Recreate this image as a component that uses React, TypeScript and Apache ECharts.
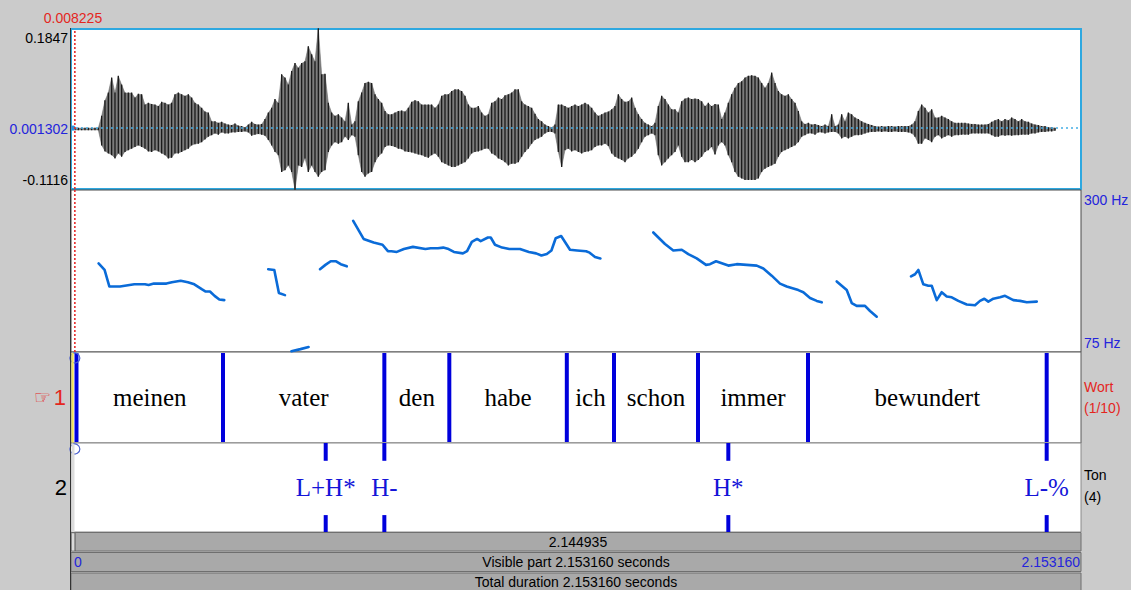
import { useEffect, useRef } from "react";
import * as echarts from "echarts";

// Sound: "meinen vater den habe ich schon immer bewundert"
const TOTAL_DURATION = 2.15316;
const CURSOR_TIME = 0.008225;

// Waveform amplitude range and zero level
const WAVE_MAX_VALUE = 0.1847;
const WAVE_MIN_VALUE = -0.1116;
const WAVE_ZERO = 0.001302;

// Waveform envelope (amplitude x 0.001), sampled on a regular time grid
const WAVE_START = 0.0085;
const WAVE_STEP = 0.0071063;
const WAVE_UPPER = [
  1, 1, 1, 1, 1, 1, 1, 1,
  23, 52, 66, 94, 66, 97, 81, 66, 66, 66,
  57, 64, 63, 44, 47, 45, 44, 41, 49, 47,
  44, 47, 63, 66, 63, 60, 63, 57, 47, 44,
  38, 31, 29, 13, 13, 10, 12, 9, 7, 6,
  9, 5, 4, 2, 7, 12, 8, 7, 8, 17,
  29, 38, 54, 47, 100, 94, 81, 106, 121, 112,
  121, 124, 152, 137, 124, 185, 100,
  101, 47, 29, 23, 26, 20, 13, 47, 7, 13,
  50, 66, 84, 86, 84, 63, 54, 47, 32, 26,
  26, 29, 32, 33, 31, 38, 49, 52, 50, 44,
  44, 44, 44, 38, 44, 60, 63, 63, 69, 72,
  72, 69, 60, 44, 38, 38, 41, 29, 23, 26,
  47, 50, 57, 54, 61, 63, 66, 72, 72, 50,
  44, 41, 38, 27, 17, 13, 7, 4, 2, 7,
  44, 44, 41, 38, 41, 44, 41,
  44, 47, 44, 38, 29, 23, 26, 29, 31, 35,
  41, 63, 54, 49, 50, 57, 38, 26, 17, 10,
  7, 4, 10, 41, 60, 54, 44, 35, 35, 29,
  50, 55, 57, 54, 55, 54, 50, 41, 47, 41,
  45, 44, 17, 29, 47, 63, 75, 84, 87, 94,
  97, 98, 97, 94, 84, 75, 84, 103, 84, 69,
  63, 60, 63, 54, 47, 32, 13, 8, 10, 7,
  8, 6, 4, 7, 4, 26, 4, 7,
  26, 13, 29, 26, 20, 17, 13, 10, 8, 6,
  4, 3, 4, 3, 4, 4, 3, 4, 4, 4,
  4, 7, 13, 32, 44, 38, 29, 35, 20, 20,
  23, 20, 17, 13, 10, 10, 10, 10, 9, 8,
  8, 7, 7, 7, 8, 12, 15, 17, 13, 17,
  15, 20, 17, 13, 17, 13, 12, 9, 7, 6,
  4, 4, 2, 2, 1,
];
const WAVE_LOWER = [
  -2, -2, -2, -2, -2, -2, -2, -2,
  -30, -41, -45, -48, -54, -45, -51, -42, -39, -36,
  -33, -30, -33, -36, -41, -42, -39, -41, -45, -48,
  -54, -53, -45, -45, -42, -39, -36, -30, -28, -27,
  -24, -19, -14, -11, -8, -10, -6, -8, -8, -6,
  -6, -5, -5, -4, -6, -12, -10, -9, -10, -12,
  -20, -30, -42, -48, -79, -76, -67, -79, -112, -67,
  -70, -54, -79, -67, -79, -88, -79,
  -76, -42, -30, -24, -27, -24, -14, -20, -11, -14,
  -48, -79, -88, -82, -79, -61, -51, -45, -33, -30,
  -31, -33, -36, -37, -41, -42, -43, -45, -47, -48,
  -51, -53, -48, -45, -51, -61, -64, -67, -70, -70,
  -67, -64, -61, -54, -45, -42, -41, -39, -36, -36,
  -45, -48, -54, -57, -61, -67, -64, -64, -61, -51,
  -42, -36, -27, -20, -17, -14, -8, -5, -5, -8,
  -42, -70, -39, -36, -41, -39, -42,
  -45, -42, -41, -39, -33, -30, -30, -27, -31, -45,
  -51, -54, -57, -61, -54, -51, -45, -36, -24, -14,
  -11, -8, -11, -48, -67, -61, -54, -48, -42, -30,
  -51, -61, -61, -57, -61, -57, -51, -42, -39, -33,
  -47, -30, -24, -30, -48, -61, -79, -88, -91, -94,
  -94, -94, -94, -91, -79, -73, -70, -67, -64, -51,
  -42, -39, -36, -33, -30, -24, -14, -11, -8, -8,
  -10, -6, -6, -8, -6, -5, -5, -8,
  -17, -14, -17, -14, -11, -11, -10, -8, -6, -5,
  -5, -4, -5, -4, -5, -5, -4, -5, -5, -5,
  -6, -8, -14, -27, -27, -17, -20, -24, -14, -11,
  -17, -14, -11, -14, -11, -11, -10, -10, -10, -8,
  -8, -8, -8, -8, -8, -11, -14, -14, -11, -12,
  -11, -12, -11, -11, -10, -10, -10, -8, -8, -6,
  -5, -5, -4, -4, -3,
];

// Pitch (Hz), voiced stretches as [time s, F0 Hz]
const PITCH_MIN = 75;
const PITCH_MAX = 300;
const PITCH_SEGMENTS = [
  [[0.0588, 198], [0.0716, 189], [0.0817, 166], [0.1045, 166], [0.135, 169], [0.1578, 169], [0.1654, 168], [0.1767, 170], [0.2034, 170], [0.2149, 172], [0.2339, 174], [0.2492, 172], [0.2629, 169], [0.2795, 162], [0.2872, 159], [0.2963, 159], [0.3061, 153], [0.3162, 148], [0.3268, 147]],
  [[0.4204, 190], [0.4334, 189], [0.4432, 157], [0.4562, 154]],
  [[0.4699, 76], [0.4891, 79], [0.5065, 82]],
  [[0.5308, 190], [0.5424, 196], [0.5537, 201], [0.5652, 201], [0.575, 197], [0.588, 194]],
  [[0.6016, 257], [0.6238, 232], [0.6451, 227], [0.6641, 224], [0.6756, 215], [0.6831, 215], [0.6946, 214], [0.7097, 218], [0.7289, 221], [0.7555, 218], [0.7668, 219], [0.7822, 219], [0.7935, 220], [0.805, 218], [0.8163, 214], [0.8355, 212], [0.8444, 215], [0.8545, 228], [0.8658, 232], [0.8734, 229], [0.8888, 234], [0.8948, 234], [0.9039, 224], [0.9191, 220], [0.9344, 218], [0.9572, 218], [0.9762, 214], [0.9915, 212], [1.0029, 209], [1.0144, 211], [1.0242, 216], [1.0333, 233], [1.0449, 236], [1.0638, 217], [1.079, 216], [1.0981, 215], [1.1056, 213], [1.1171, 207], [1.1286, 205]],
  [[1.2414, 241], [1.2663, 225], [1.284, 216], [1.302, 217], [1.316, 211], [1.3339, 205], [1.3538, 196], [1.3623, 197], [1.3751, 201], [1.4013, 195], [1.4192, 197], [1.4405, 196], [1.4619, 195], [1.4759, 191], [1.4938, 181], [1.5115, 170], [1.5258, 166], [1.5505, 161], [1.5612, 158], [1.5755, 150], [1.5898, 146], [1.6004, 144]],
  [[1.6324, 173], [1.6537, 161], [1.6644, 143], [1.675, 139], [1.6927, 139], [1.7034, 132], [1.7177, 124]],
  [[1.7908, 180], [1.7993, 183], [1.8064, 189], [1.817, 169], [1.8277, 167], [1.8349, 167], [1.8456, 147], [1.8562, 158], [1.8669, 152], [1.8776, 151], [1.8916, 146], [1.9095, 141], [1.9272, 140], [1.9379, 146], [1.9471, 149], [1.9556, 145], [1.9663, 149], [1.9805, 151], [1.9912, 153], [2.0089, 147], [2.0232, 146], [2.0375, 144], [2.0588, 145]],
];

// Tier 1 "Wort" (interval tier)
const WORD_BOUNDARIES = [0.0117, 0.324, 0.668, 0.8065, 1.057, 1.1576, 1.3367, 1.5712, 2.08];
const WORD_LABELS = ["meinen", "vater", "den", "habe", "ich", "schon", "immer", "bewundert"];
const WORD_INTERVAL_COUNT = 10;

// Tier 2 "Ton" (point tier)
const TONE_TIMES = [0.543, 0.668, 1.4013, 2.08];
const TONE_LABELS = ["L+H*", "H-", "H*", "L-%"];

const SANS = '"Liberation Sans", Arial, Helvetica, sans-serif';
const SERIF = '"Liberation Serif", "Times New Roman", serif';
const BLUE_TEXT = "#2424dc";
const RED_TEXT = "#e4261e";
const TIER_BLUE = "#0000dc";

const LEFT = 71;
const PLOT_W = 1010;

function buildOption(): any {
  const waveRows = WAVE_UPPER.map((hi, i) => {
    const j = Math.min(i + 1, WAVE_UPPER.length - 1);
    return [
      WAVE_START + i * WAVE_STEP,
      WAVE_LOWER[i] / 1000,
      hi / 1000,
      WAVE_START + j * WAVE_STEP,
      WAVE_LOWER[j] / 1000,
      WAVE_UPPER[j] / 1000,
    ];
  });

  const xAxes = [0, 1, 2, 3].map((g) => ({
    type: "value",
    gridIndex: g,
    min: 0,
    max: TOTAL_DURATION,
    show: false,
  }));

  const yAxes = [
    { type: "value", gridIndex: 0, min: WAVE_MIN_VALUE, max: WAVE_MAX_VALUE, show: false },
    { type: "value", gridIndex: 1, min: PITCH_MIN, max: PITCH_MAX, show: false },
    { type: "value", gridIndex: 2, min: 0, max: 1, show: false },
    { type: "value", gridIndex: 3, min: 0, max: 1, show: false },
  ];

  const series: any[] = [];

  // waveform: grey envelope with a dark stroke per sample
  series.push({
    type: "custom",
    xAxisIndex: 0,
    yAxisIndex: 0,
    encode: { x: [0, 3], y: [1, 2, 4, 5] },
    data: waveRows,
    z: 3,
    renderItem: (_p: any, api: any) => {
      const a = api.coord([api.value(0), api.value(2)]);
      const b = api.coord([api.value(3), api.value(5)]);
      const c = api.coord([api.value(3), api.value(4)]);
      const d = api.coord([api.value(0), api.value(1)]);
      return {
        type: "group",
        children: [
          {
            type: "polygon",
            shape: { points: [a, b, c, d] },
            style: { fill: "#7c7c7c", stroke: "#6e6e6e", lineWidth: 0.6 },
          },
          {
            type: "line",
            shape: { x1: a[0], y1: a[1] - 0.5, x2: d[0], y2: d[1] + 0.5 },
            style: { stroke: "#151515", lineWidth: 1.2 },
          },
        ],
      };
    },
  });

  // zero level of the waveform
  series.push({
    type: "line",
    xAxisIndex: 0,
    yAxisIndex: 0,
    data: [[0, WAVE_ZERO], [TOTAL_DURATION, WAVE_ZERO]],
    showSymbol: false,
    silent: true,
    z: 5,
    lineStyle: { color: "#44aee6", width: 1.5, type: [2, 3] },
  });
  series.push({
    type: "custom",
    xAxisIndex: 0,
    yAxisIndex: 0,
    data: [[0, WAVE_ZERO]],
    z: 6,
    renderItem: (_p: any, api: any) => {
      const p = api.coord([api.value(0), api.value(1)]);
      return { type: "circle", shape: { cx: p[0] + 2, cy: p[1], r: 2.6 }, style: { fill: "#2f90d6" } };
    },
  });

  // cursor
  [0, 1].forEach((g) => {
    series.push({
      type: "line",
      xAxisIndex: g,
      yAxisIndex: g,
      data: [
        [CURSOR_TIME, g === 0 ? WAVE_MIN_VALUE : PITCH_MIN],
        [CURSOR_TIME, g === 0 ? WAVE_MAX_VALUE : PITCH_MAX],
      ],
      showSymbol: false,
      silent: true,
      z: 6,
      lineStyle: { color: "#e62a2a", width: 1.6, type: [2, 2] },
    });
  });

  // pitch contour
  PITCH_SEGMENTS.forEach((seg) => {
    series.push({
      type: "line",
      xAxisIndex: 1,
      yAxisIndex: 1,
      data: seg,
      showSymbol: false,
      silent: true,
      z: 4,
      lineStyle: { color: "#0a6bd8", width: 2.6, join: "round", cap: "round" },
    });
  });

  // tier 1 boundaries
  series.push({
    type: "custom",
    xAxisIndex: 2,
    yAxisIndex: 2,
    data: WORD_BOUNDARIES.map((t) => [t, 0.5]),
    z: 4,
    renderItem: (_p: any, api: any) => {
      const top = api.coord([api.value(0), 1]);
      const bot = api.coord([api.value(0), 0]);
      return {
        type: "line",
        shape: { x1: top[0], y1: top[1] + 1, x2: bot[0], y2: bot[1] - 1 },
        style: { stroke: TIER_BLUE, lineWidth: 4 },
      };
    },
  });

  // tier 1 labels
  series.push({
    type: "custom",
    xAxisIndex: 2,
    yAxisIndex: 2,
    encode: { x: [0, 1], y: 2 },
    data: WORD_LABELS.map((_w, i) => [WORD_BOUNDARIES[i], WORD_BOUNDARIES[i + 1], 0.5]),
    z: 4,
    renderItem: (params: any, api: any) => {
      const a = api.coord([api.value(0), api.value(2)]);
      const b = api.coord([api.value(1), api.value(2)]);
      return {
        type: "text",
        x: (a[0] + b[0]) / 2,
        y: a[1],
        style: {
          text: WORD_LABELS[params.dataIndex],
          font: `25px ${SERIF}`,
          fill: "#000000",
          align: "center",
          verticalAlign: "middle",
        },
      };
    },
  });

  // tier 2 points
  series.push({
    type: "custom",
    xAxisIndex: 3,
    yAxisIndex: 3,
    data: TONE_TIMES.map((t) => [t, 0.5]),
    z: 4,
    renderItem: (params: any, api: any) => {
      const t = api.value(0);
      const top = api.coord([t, 1]);
      const topEnd = api.coord([t, 0.8]);
      const botStart = api.coord([t, 0.19]);
      const bot = api.coord([t, 0]);
      const mid = api.coord([t, 0.5]);
      return {
        type: "group",
        children: [
          { type: "line", shape: { x1: top[0], y1: top[1], x2: topEnd[0], y2: topEnd[1] }, style: { stroke: TIER_BLUE, lineWidth: 4 } },
          { type: "line", shape: { x1: botStart[0], y1: botStart[1], x2: bot[0], y2: bot[1] }, style: { stroke: TIER_BLUE, lineWidth: 4 } },
          {
            type: "text",
            x: mid[0],
            y: mid[1],
            style: {
              text: TONE_LABELS[params.dataIndex],
              font: `25px ${SERIF}`,
              fill: "#1414d8",
              align: "center",
              verticalAlign: "middle",
            },
          },
        ],
      };
    },
  });

  // cursor markers at the top of each tier
  [2, 3].forEach((g) => {
    series.push({
      type: "custom",
      xAxisIndex: g,
      yAxisIndex: g,
      data: [[CURSOR_TIME, 1]],
      z: 8,
      renderItem: (_p: any, api: any) => {
        const p = api.coord([api.value(0), api.value(1)]);
        return {
          type: "circle",
          shape: { cx: p[0], cy: p[1] + 6, r: 5 },
          style: { fill: g === 3 ? "#ffffff" : "rgba(255,255,255,0)", stroke: "#4a5fd0", lineWidth: 1.2 },
        };
      },
    });
  });

  const txt = (text: string, x: number, y: number, fill: string, align: string, font = `14px ${SANS}`) => ({
    type: "text",
    x,
    y,
    z: 20,
    silent: true,
    style: { text, fill, font, align, verticalAlign: "middle" },
  });

  const bar = (y: number, h: number) => ({
    type: "rect",
    z: 10,
    silent: true,
    shape: { x: LEFT, y, width: PLOT_W, height: h },
    style: { fill: "#a9a9a9", stroke: "#6f6f6f", lineWidth: 1 },
  });

  const selection = (TOTAL_DURATION - CURSOR_TIME).toFixed(6);
  const total = TOTAL_DURATION.toFixed(6);

  const graphic: any[] = [
    // tier side strips
    { type: "rect", z: 12, silent: true, shape: { x: LEFT + 0.5, y: 353, width: 2.2, height: 89.5 }, style: { fill: "#efe05a" } },
    { type: "rect", z: 12, silent: true, shape: { x: LEFT + 0.5, y: 444, width: 3, height: 88 }, style: { fill: "#dcdcdc" } },
    // bottom bars
    bar(532.5, 18.5),
    { type: "rect", z: 11, silent: true, shape: { x: LEFT + 1, y: 533.5, width: 3, height: 17 }, style: { fill: "#dadada" } },
    { type: "line", z: 11, silent: true, shape: { x1: 75, y1: 533, x2: 75, y2: 551 }, style: { stroke: "#555555", lineWidth: 1 } },
    bar(552.5, 19),
    bar(573, 18),
    // frame line on the left
    { type: "line", z: 15, silent: true, shape: { x1: 70.5, y1: 28, x2: 70.5, y2: 590 }, style: { stroke: "#333333", lineWidth: 1 } },
    txt(selection, 578, 541.5, "#000000", "center"),
    txt("0", 74, 562, BLUE_TEXT, "left"),
    txt(`Visible part ${total} seconds`, 576, 562, "#000000", "center"),
    txt(total, 1080, 562, BLUE_TEXT, "right"),
    txt(`Total duration ${total} seconds`, 576, 582, "#000000", "center"),
    // cursor time
    txt(CURSOR_TIME.toFixed(6), 73, 18, RED_TEXT, "center"),
    // waveform scale
    txt(String(WAVE_MAX_VALUE), 68, 38, "#000000", "right"),
    txt(String(WAVE_ZERO), 68, 128.5, BLUE_TEXT, "right"),
    txt(String(WAVE_MIN_VALUE), 68, 180, "#000000", "right"),
    // pitch scale
    txt(`${PITCH_MAX} Hz`, 1084, 200, BLUE_TEXT, "left"),
    txt(`${PITCH_MIN} Hz`, 1084, 343, BLUE_TEXT, "left"),
    // tier names
    txt("\u261E", 51, 397, RED_TEXT, "right", `19px "DejaVu Sans", sans-serif`),
    txt("1", 66, 397, RED_TEXT, "right", `22px ${SANS}`),
    txt("2", 67, 487, "#000000", "right", `22px ${SANS}`),
    txt("Wort", 1084, 386.5, RED_TEXT, "left"),
    txt(`(1/${WORD_INTERVAL_COUNT})`, 1084, 408, RED_TEXT, "left"),
    txt("Ton", 1084, 475, "#000000", "left"),
    txt(`(${TONE_TIMES.length})`, 1084, 497, "#000000", "left"),
  ];

  return {
    animation: false,
    backgroundColor: "#cbcbcb",
    grid: [
      { left: LEFT, top: 29, width: PLOT_W, height: 160, show: true, backgroundColor: "#ffffff", borderColor: "#2ea8e0", borderWidth: 2 },
      { left: LEFT, top: 190, width: PLOT_W, height: 162, show: true, backgroundColor: "#ffffff", borderColor: "#4a4a4a", borderWidth: 1 },
      { left: LEFT, top: 352, width: PLOT_W, height: 91, show: true, backgroundColor: "#ffffff", borderColor: "#5a5a5a", borderWidth: 1 },
      { left: LEFT, top: 443, width: PLOT_W, height: 89, show: true, backgroundColor: "#ffffff", borderColor: "#8a8a8a", borderWidth: 1 },
    ],
    xAxis: xAxes,
    yAxis: yAxes,
    series,
    graphic,
  };
}

export default function App() {
  const ref = useRef<HTMLDivElement>(null);

  useEffect(() => {
    if (!ref.current) return;
    const chart = echarts.init(ref.current, undefined, { renderer: "svg" });
    chart.setOption(buildOption());
    return () => chart.dispose();
  }, []);

  return (
    <div
      ref={ref}
      style={{ position: "fixed", left: 0, top: 0, width: 1131, height: 590 }}
    />
  );
}
